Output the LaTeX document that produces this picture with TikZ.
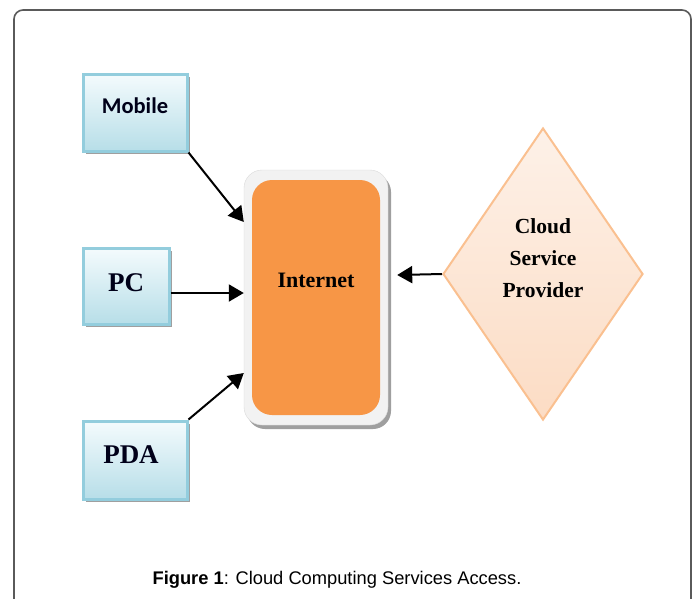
\documentclass[tikz,border=0pt]{standalone}
\usepackage{fontspec}
\setmainfont{Liberation Serif}
\newfontfamily\carlito{Carlito}
\newfontfamily\arialf{Liberation Sans}
\usetikzlibrary{shapes.geometric,arrows.meta,shadows}
\definecolor{boxborder}{HTML}{93CDDD}
\definecolor{boxtop}{HTML}{F4FBFD}
\definecolor{boxbot}{HTML}{B7DEE8}
\definecolor{inetorange}{HTML}{F79646}
\definecolor{framegray}{HTML}{F2F2F2}
\definecolor{dborder}{HTML}{FAC090}
\definecolor{dtop}{HTML}{FDF1E8}
\definecolor{dbot}{HTML}{FCDCC4}
\definecolor{outerframe}{HTML}{5A5A5A}
\begin{document}
\begin{tikzpicture}[x=1pt,y=-1pt,
  devbox/.style={draw=boxborder, line width=3pt, top color=boxtop, bottom color=boxbot,
    inner sep=0pt,
    drop shadow={shadow xshift=3pt, shadow yshift=-3pt, fill=gray!75, opacity=1}},
  devtext/.style={text=black!90!blue, inner sep=0pt},
  inetframe/.style={fill=framegray, draw=framegray!90!black, line width=0.4pt, rounded corners=18pt,
    minimum width=144pt, minimum height=255pt, inner sep=0pt,
    drop shadow={shadow xshift=3pt, shadow yshift=-4pt, fill=gray!75, opacity=1}},
  inetbox/.style={fill=inetorange, rounded corners=20pt, minimum width=128pt, minimum height=235pt, inner sep=0pt},
  cspshape/.style={diamond, draw=dborder, line width=2pt, top color=dtop, bottom color=dbot,
    minimum width=200pt, minimum height=292pt, inner sep=0pt},
  serifbold/.style={font=\fontsize{27}{30}\selectfont\bfseries},
  arr/.style={line width=2pt, -{Triangle[length=15pt,width=17pt]}}
  ]
\useasboundingbox (0,0) rectangle (697,598);
% outer frame
\draw[outerframe, line width=1.6pt, rounded corners=9pt] (14,610) -- (14,10) -- (691,10) -- (691,610);

% devices
\node[devbox, minimum width=104pt, minimum height=77pt] (mobile) at (135,112.5) {};
\node[devtext, font=\carlito\fontsize{22.5}{24}\selectfont\bfseries] (mobiletext) at ([yshift=7pt]mobile.center) {Mobile};
\node[devbox, minimum width=86pt, minimum height=76pt] (pc) at (126,286) {};
\node[devtext, serifbold] (pctext) at ([yshift=3pt]pc.center) {PC};
\node[devbox, minimum width=104pt, minimum height=78pt] (pda) at (135,460) {};
\node[devtext, serifbold] (pdatext) at ([xshift=-4pt,yshift=5pt]pda.center) {PDA};

% internet
\node[inetframe] (frame) at (316,297.5) {};
\node[inetbox] (internet) at (316,297.5) {};
\node[font=\fontsize{22}{24}\selectfont\bfseries] (inetlabel) at (316,280) {Internet};

% cloud service provider
\node[cspshape] (csp) at (543,274) {};
\node[font=\fontsize{21.5}{32}\selectfont\bfseries, align=center] (csplabel) at (543,258) {Cloud\\Service\\Provider};

% arrows
\draw[arr] (mobile.south east) -- ([yshift=75.5pt]frame.west);
\draw[arr] ([yshift=-7pt]pc.east) -- ([yshift=4.5pt]frame.west);
\draw[arr] (pda.north east) -- ([yshift=-75.5pt]frame.west);
\draw[arr] (csp.west) -- ([shift={(9pt,22.5pt)}]frame.east);

% caption
\node[font=\arialf\fontsize{18.3}{20}\selectfont] (caption) at (337,580) {\textbf{Figure 1}: Cloud Computing Services Access.};
\end{tikzpicture}
\end{document}
